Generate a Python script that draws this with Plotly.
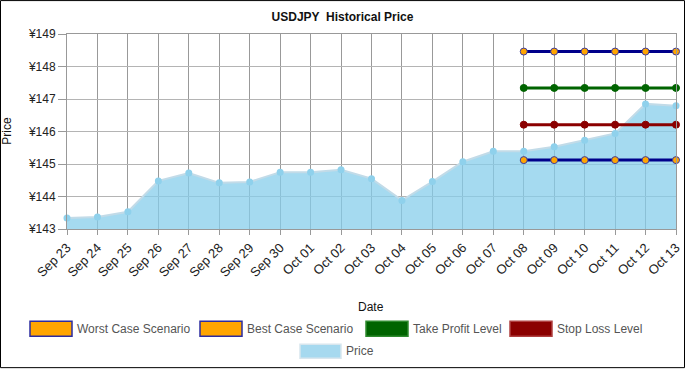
import plotly.graph_objects as go

# ---------------- data ----------------
dates = ["Sep 23", "Sep 24", "Sep 25", "Sep 26", "Sep 27", "Sep 28", "Sep 29", "Sep 30",
         "Oct 01", "Oct 02", "Oct 03", "Oct 04", "Oct 05", "Oct 06", "Oct 07", "Oct 08",
         "Oct 09", "Oct 10", "Oct 11", "Oct 12", "Oct 13"]
price = [143.34, 143.37, 143.53, 144.48, 144.72, 144.42, 144.45, 144.75,
         144.75, 144.82, 144.55, 143.88, 144.46, 145.07, 145.39, 145.39,
         145.53, 145.73, 145.94, 146.85, 146.79]
level_dates = ["Oct 08", "Oct 09", "Oct 10", "Oct 11", "Oct 12", "Oct 13"]
worst_case = [145.12] * 6
best_case = [148.46] * 6
take_profit = [147.34] * 6
stop_loss = [146.21] * 6
y_tickvals = [143, 144, 145, 146, 147, 148, 149]
y_ticktext = ["¥143", "¥144", "¥145", "¥146", "¥147", "¥148", "¥149"]
legend_names = ["Worst Case Scenario", "Best Case Scenario", "Take Profit Level", "Stop Loss Level", "Price"]

# ---------------- layout geometry (pixels) ----------------
W, H = 685, 369
L, R, T, B = 67, 676, 34, 229.5
FONT = "Liberation Sans, Arial, sans-serif"


def xp(p):
    return (p - L) / (R - L)


def yp(p):
    return (B - p) / (B - T)


fig = go.Figure()

fig.add_trace(go.Scatter(
    x=dates, y=price, mode="lines+markers", name=legend_names[4],
    fill="tozeroy", fillcolor="rgba(135,206,235,0.75)",
    line=dict(color="#c2dbe8", width=2),
    marker=dict(color="#8fd1ec", size=7),
    cliponaxis=False, showlegend=False))

for vals, lc, mc, ml, nm in [
        (stop_loss, "#8b0000", "#8b0000", "#8b0000", legend_names[3]),
        (take_profit, "#006400", "#006400", "#006400", legend_names[2]),
        (worst_case, "#00008b", "#ffa500", "#3a3aa0", legend_names[0]),
        (best_case, "#00008b", "#ffa500", "#3a3aa0", legend_names[1])]:
    fig.add_trace(go.Scatter(
        x=level_dates, y=vals, mode="lines+markers", name=nm,
        line=dict(color=lc, width=3),
        marker=dict(color=mc, size=7, line=dict(color=ml, width=1)),
        cliponaxis=False, showlegend=False))

shapes = []
annotations = []

# outer border
shapes.append(dict(type="rect", xref="paper", yref="paper",
                   x0=xp(0.5), x1=xp(684.5), y0=yp(368.5), y1=yp(0.5),
                   line=dict(color="black", width=1), fillcolor="rgba(0,0,0,0)", layer="above"))

# manual legend
legend_items = [
    (legend_names[0], "#ffa500", "#2c2ca0", 30, 72, 322, 337),
    (legend_names[1], "#ffa500", "#2c2ca0", 200, 242, 322, 337),
    (legend_names[2], "#006400", "#2f8a2f", 366, 408, 322, 337),
    (legend_names[3], "#8b0000", "#b04040", 510, 552, 322, 337),
    (legend_names[4], "#a6d9ef", "#d8e6ee", 300, 341, 345, 359),
]
for nm, fc, bc, x0, x1, y0, y1 in legend_items:
    shapes.append(dict(type="rect", xref="paper", yref="paper",
                       x0=xp(x0), x1=xp(x1), y0=yp(y1), y1=yp(y0),
                       fillcolor=fc, line=dict(color=bc, width=1.5), layer="above"))
    annotations.append(dict(text=nm, xref="paper", yref="paper",
                            x=xp(x1 + 3), y=yp((y0 + y1) / 2), xanchor="left", yanchor="middle",
                            showarrow=False, font=dict(family=FONT, size=12, color="#555")))

# axis titles
annotations.append(dict(text="Date", xref="paper", yref="paper", x=xp(371), y=yp(308),
                        xanchor="center", yanchor="middle", showarrow=False,
                        font=dict(family=FONT, size=12, color="#111")))
annotations.append(dict(text="Price", xref="paper", yref="paper", x=xp(7), y=yp(131),
                        xanchor="center", yanchor="middle", showarrow=False, textangle=-90,
                        font=dict(family=FONT, size=12, color="#111")))

fig.update_layout(
    width=W, height=H,
    margin=dict(l=L, r=W - R, t=T, b=H - B, autoexpand=False),
    paper_bgcolor="white", plot_bgcolor="white",
    title=dict(text="<b>USDJPY  Historical Price</b>", x=0.5, xanchor="center",
               y=1 - 17 / H, yanchor="middle",
               font=dict(family=FONT, size=12, color="#111")),
    shapes=shapes, annotations=annotations,
    showlegend=False,
    xaxis=dict(type="category", categoryorder="array", categoryarray=dates,
               range=[0, len(dates) - 1], showgrid=True, gridcolor="#999", gridwidth=1,
               showline=True, linecolor="#999", mirror=True, zeroline=False,
               ticks="outside", ticklen=5, tickcolor="#999", tickangle=-45,
               tickfont=dict(family=FONT, size=13, color="#222")),
    yaxis=dict(range=[143, 149], tickvals=y_tickvals, ticktext=y_ticktext,
               showgrid=True, gridcolor="#b4b4b4", gridwidth=1,
               showline=True, linecolor="#999", mirror=True, zeroline=False,
               ticks="outside", ticklen=8, tickcolor="#999",
               tickfont=dict(family=FONT, size=12, color="#222")),
)

fig.write_html("out.html", config={"displayModeBar": False},
               post_script="document.body.style.margin='0';document.body.style.overflow='hidden';")
